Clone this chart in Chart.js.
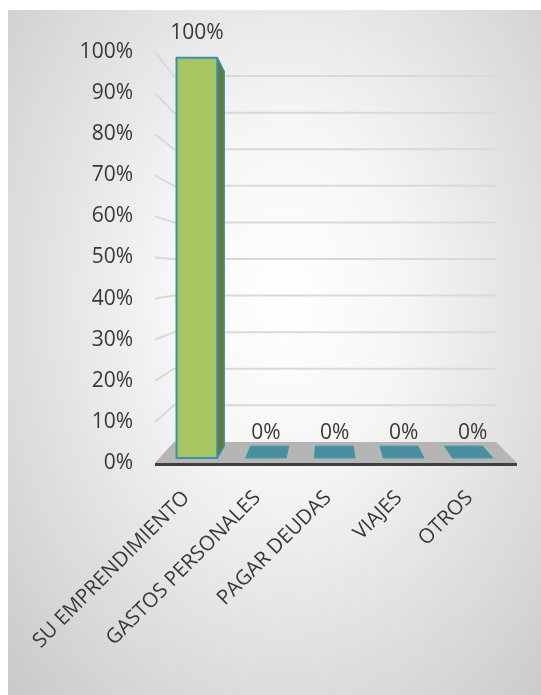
<!DOCTYPE html>
<html>
  <head>
    <meta charset="utf-8"/>
    <style type="text/css">
      body {
        margin: 0px;
        padding: 0px;
        background: #ffffff;
      }
      #frame {
        position: absolute;
        left: 8px;
        top: 10px;
        width: 533px;
        height: 685px;
        background: radial-gradient(ellipse at 52% 42%, #ffffff 0%, #f6f6f6 30%, #c9c9c9 100%);
      }
      #chart {
        position: absolute;
        left: 0;
        top: 0;
      }
    </style>
    <script src="https://cdn.jsdelivr.net/npm/chart.js@4.4.1/dist/chart.umd.min.js"></script>
  </head>
  <body>
    <div id="frame"></div>
    <canvas id="chart" width="541" height="695"></canvas>
    <script>
      // values
      var categories = ['SU EMPRENDIMIENTO', 'GASTOS PERSONALES', 'PAGAR DEUDAS', 'VIAJES', 'OTROS'];
      var shares = [1, 0, 0, 0, 0];
      var yMin = 0, yMax = 1, yStep = 0.1;

      // fake 3d: vanishing point as fraction of chart area, depth scales
      var VX = 0.477, VY = 0.533;
      var S_BACK = 0.89, S_BAR_FRONT = 0.974, S_BAR_BACK = 0.912;
      var FLOOR_L = 3, FLOOR_R = 5;   // floor sticks out a bit past the plot
      var FONT = '"Open Sans", sans-serif';
      var TEXT = '#383838';

      function pct(v) { return Math.round(v * 100) + '%'; }

      function proj(ca, x, y, s) {
        var vx = ca.left + VX * (ca.right - ca.left);
        var vy = ca.top + VY * (ca.bottom - ca.top);
        return [vx + s * (x - vx), vy + s * (y - vy)];
      }

      function poly(ctx, pts, fill, stroke, lw) {
        ctx.beginPath();
        ctx.moveTo(pts[0][0], pts[0][1]);
        for (var i = 1; i < pts.length; i++) ctx.lineTo(pts[i][0], pts[i][1]);
        ctx.closePath();
        if (fill) { ctx.fillStyle = fill; ctx.fill(); }
        if (stroke) { ctx.strokeStyle = stroke; ctx.lineWidth = lw || 1; ctx.stroke(); }
      }

      var walls = {
        id: 'walls',
        beforeDatasetsDraw: function(chart) {
          var ctx = chart.ctx, ca = chart.chartArea, ys = chart.scales.y;
          var L = ca.left - FLOOR_L, R = ca.right + FLOOR_R;
          ctx.save();
          // gridlines on side and back wall
          ctx.strokeStyle = '#d9d9d9';
          ctx.lineWidth = 2;
          ys.ticks.forEach(function(t) {
            if (t.value <= yMin) return;
            var yf = ys.getPixelForValue(t.value);
            var a = proj(ca, L, yf, 1);
            var b = proj(ca, L, yf, S_BACK);
            var c = proj(ca, R, yf, S_BACK);
            ctx.beginPath();
            ctx.moveTo(a[0], a[1]);
            ctx.lineTo(b[0], b[1]);
            ctx.lineTo(c[0], c[1]);
            ctx.stroke();
          });
          // floor
          var y0 = ys.getPixelForValue(yMin);
          poly(ctx, [proj(ca, L, y0, S_BACK), proj(ca, R, y0, S_BACK),
                     proj(ca, R, y0, 1), proj(ca, L, y0, 1)], '#b5b5b5');
          var fl = proj(ca, L, y0, 1), fr = proj(ca, R, y0, 1);
          ctx.fillStyle = '#3f3f3f';
          ctx.fillRect(fl[0], fl[1], fr[0] - fl[0], 3);
          ctx.restore();
        },
        afterDatasetsDraw: function(chart) {
          var ctx = chart.ctx, ca = chart.chartArea;
          var meta = chart.getDatasetMeta(0);
          var vx = ca.left + VX * (ca.right - ca.left);
          var vy = ca.top + VY * (ca.bottom - ca.top);
          ctx.save();
          ctx.lineJoin = 'round';
          meta.data.forEach(function(el, i) {
            var p = el.getProps(['x', 'y', 'base', 'width'], true);
            var xl = p.x - p.width / 2, xr = p.x + p.width / 2;
            var yt = Math.min(p.y, p.base), yb = Math.max(p.y, p.base);
            var f = S_BAR_FRONT, b = S_BAR_BACK;
            var edge = '#3a90ae';
            if (yb - yt > 0.5) {
              if (xr < vx) {
                poly(ctx, [proj(ca, xr, yt, f), proj(ca, xr, yt, b), proj(ca, xr, yb, b), proj(ca, xr, yb, f)],
                     '#617b35', edge, 1.5);
              } else if (xl > vx) {
                poly(ctx, [proj(ca, xl, yt, f), proj(ca, xl, yt, b), proj(ca, xl, yb, b), proj(ca, xl, yb, f)],
                     '#617b35', edge, 1.5);
              }
              if (yt > vy) {
                poly(ctx, [proj(ca, xl, yt, b), proj(ca, xr, yt, b), proj(ca, xr, yt, f), proj(ca, xl, yt, f)],
                     '#8aa84c', edge, 1.5);
              }
              poly(ctx, [proj(ca, xl, yt, f), proj(ca, xr, yt, f), proj(ca, xr, yb, f), proj(ca, xl, yb, f)],
                   '#a7c662', edge, 2);
            } else {
              poly(ctx, [proj(ca, xl, yt, b), proj(ca, xr, yt, b), proj(ca, xr, yt, f), proj(ca, xl, yt, f)],
                   '#4a8d9f', '#3e9ab4', 1);
            }
            // value label
            var lp = proj(ca, p.x, yt, f);
            ctx.fillStyle = TEXT;
            ctx.font = '21px ' + FONT;
            ctx.textAlign = 'center';
            ctx.textBaseline = 'middle';
            ctx.fillText(pct(shares[i]), lp[0], lp[1] - 25);
          });
          ctx.restore();
        }
      };

      var chart = new Chart(document.getElementById('chart'), {
        type: 'bar',
        data: {
          labels: categories,
          datasets: [{
            data: shares,
            backgroundColor: 'rgba(0,0,0,0)',
            borderWidth: 0,
            categoryPercentage: 1,
            barPercentage: 0.59
          }]
        },
        options: {
          responsive: false,
          animation: false,
          layout: { padding: { left: 0, right: 29, top: 52, bottom: 0 } },
          plugins: {
            legend: { display: false },
            tooltip: { enabled: false }
          },
          scales: {
            x: {
              grid: { display: false, drawTicks: false },
              border: { display: false },
              afterFit: function(s) { s.height = 232; },
              ticks: {
                color: TEXT,
                font: { family: FONT, size: 20.5 },
                minRotation: 45,
                maxRotation: 45,
                padding: 23,
                labelOffset: -7,
                autoSkip: false
              }
            },
            y: {
              min: yMin,
              max: yMax,
              grid: { display: false, drawTicks: false },
              border: { display: false },
              afterFit: function(s) { s.width = 158; },
              ticks: {
                stepSize: yStep,
                color: TEXT,
                font: { family: FONT, size: 21 },
                padding: 25,
                callback: function(v) { return pct(v); }
              }
            }
          }
        },
        plugins: [walls]
      });
    </script>
  </body>
</html>
